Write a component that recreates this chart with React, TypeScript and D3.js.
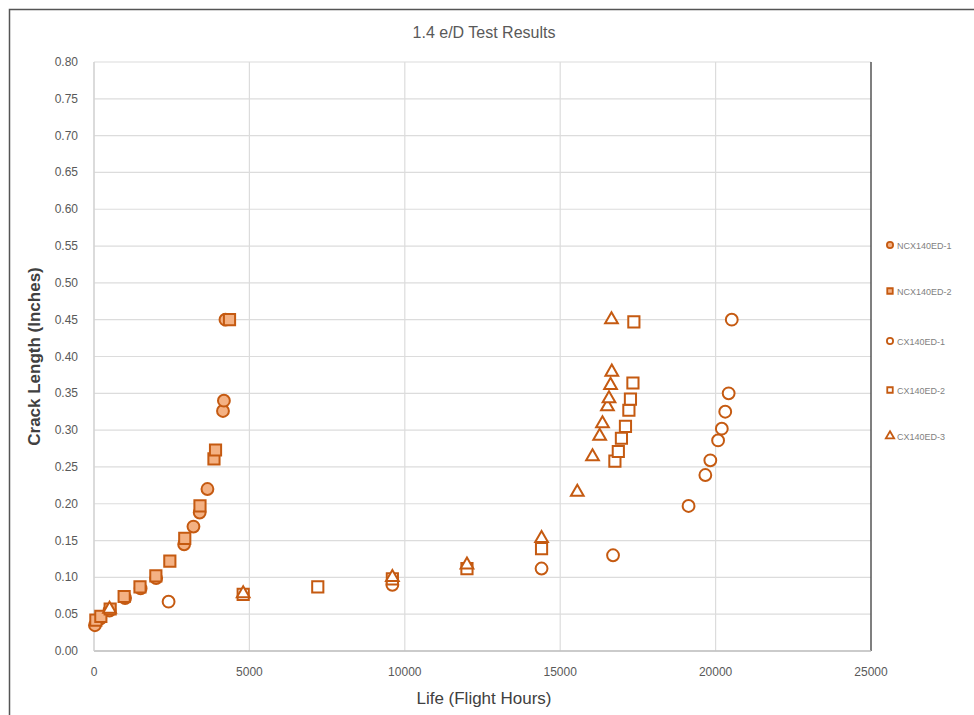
import React, { useEffect, useRef } from 'react';
import * as d3 from 'd3';

// NCX140ED-1 (filled circles)
const ncx1Hours = [30, 200, 500, 1000, 1500, 2000, 2900, 3200, 3400, 3650, 4150, 4180, 4230];
const ncx1Crack = [0.035, 0.044, 0.055, 0.072, 0.085, 0.099, 0.145, 0.169, 0.188, 0.220, 0.326, 0.340, 0.450];
// NCX140ED-2 (filled squares)
const ncx2Hours = [60, 220, 520, 970, 1480, 1990, 2440, 2920, 3410, 3860, 3910, 4360];
const ncx2Crack = [0.042, 0.047, 0.057, 0.074, 0.087, 0.102, 0.122, 0.153, 0.197, 0.261, 0.273, 0.450];
// CX140ED-1 (open circles)
const cx1Hours = [2400, 9600, 14400, 16700, 19130, 19670, 19830, 20080, 20200, 20310, 20420, 20520];
const cx1Crack = [0.067, 0.090, 0.112, 0.130, 0.197, 0.239, 0.259, 0.286, 0.302, 0.325, 0.350, 0.450];
// CX140ED-2 (open squares)
const cx2Hours = [4800, 7200, 9600, 12000, 14400, 16760, 16870, 16970, 17100, 17210, 17260, 17340, 17370];
const cx2Crack = [0.077, 0.087, 0.098, 0.112, 0.139, 0.258, 0.271, 0.289, 0.305, 0.327, 0.342, 0.364, 0.447];
// CX140ED-3 (open triangles)
const cx3Hours = [500, 4800, 9600, 12000, 14400, 15550, 16040, 16270, 16360, 16520, 16570, 16620, 16660, 16650];
const cx3Crack = [0.057, 0.078, 0.100, 0.117, 0.153, 0.216, 0.264, 0.292, 0.309, 0.332, 0.343, 0.361, 0.379, 0.450];

const seriesNames = ['NCX140ED-1', 'NCX140ED-2', 'CX140ED-1', 'CX140ED-2', 'CX140ED-3'];
const xTicks = [0, 5000, 10000, 15000, 20000, 25000];
const yTicks = d3.range(0, 0.8001, 0.05);

const ORANGE = '#c55a11';
const LIGHT = '#f4b183';
const FONT = '"Liberation Sans Narrow", "Liberation Sans", sans-serif';

export default function App() {
  const ref = useRef<SVGSVGElement>(null);

  useEffect(() => {
    const svg = d3.select(ref.current);
    svg.selectAll('*').remove();

    const x = d3.scaleLinear().domain([0, 25000]).range([94, 871]);
    const y = d3.scaleLinear().domain([0, 0.8]).range([651, 62]);

    svg.append('rect').attr('width', 974).attr('height', 715).attr('fill', '#fff');
    // outer frame
    svg.append('path').attr('d', 'M9.5,715 V9.5 H974').attr('fill', 'none').attr('stroke', '#555').attr('stroke-width', 1.5);

    svg.append('text').attr('x', 484).attr('y', 38).attr('text-anchor', 'middle')
      .attr('font-family', FONT).attr('font-size', 16).attr('fill', '#595959').text('1.4 e/D Test Results');

    const grid = svg.append('g');
    grid.selectAll('line.h').data(yTicks).enter().append('line')
      .attr('x1', x(0)).attr('x2', x(25000)).attr('y1', d => y(d)).attr('y2', d => y(d))
      .attr('stroke', '#dcdcdc').attr('stroke-width', 1.2);
    grid.selectAll('line.v').data(xTicks).enter().append('line')
      .attr('y1', y(0)).attr('y2', y(0.8)).attr('x1', d => x(d)).attr('x2', d => x(d))
      .attr('stroke', d => (d === 25000 ? '#555' : '#dcdcdc')).attr('stroke-width', d => (d === 25000 ? 1.5 : 1.2));
    svg.append('line').attr('x1', x(0)).attr('x2', x(25000)).attr('y1', y(0)).attr('y2', y(0))
      .attr('stroke', '#bfbfbf').attr('stroke-width', 1.5);
    svg.append('line').attr('x1', x(0)).attr('x2', x(0)).attr('y1', y(0)).attr('y2', y(0.8))
      .attr('stroke', '#d0d0d0').attr('stroke-width', 1.2);

    svg.selectAll('text.yt').data(yTicks).enter().append('text')
      .attr('x', 78).attr('y', d => y(d) + 4).attr('text-anchor', 'end')
      .attr('font-family', FONT).attr('font-size', 12).attr('fill', '#595959')
      .text(d => d3.format('.2f')(d));
    svg.selectAll('text.xt').data(xTicks).enter().append('text')
      .attr('x', d => x(d)).attr('y', 676).attr('text-anchor', 'middle')
      .attr('font-family', FONT).attr('font-size', 12).attr('fill', '#595959')
      .text(d => String(d));

    svg.append('text').attr('x', 484).attr('y', 704).attr('text-anchor', 'middle')
      .attr('font-family', FONT).attr('font-size', 17).attr('fill', '#404040').text('Life (Flight Hours)');
    svg.append('text').attr('transform', `translate(40,${y(0.4)}) rotate(-90)`).attr('text-anchor', 'middle')
      .attr('font-family', FONT).attr('font-size', 17).attr('font-weight', 'bold').attr('fill', '#404040')
      .text('Crack Length (Inches)');

    const series = [
      { h: ncx1Hours, c: ncx1Crack, shape: d3.symbolCircle, fill: LIGHT, size: 110 },
      { h: ncx2Hours, c: ncx2Crack, shape: d3.symbolSquare, fill: LIGHT, size: 125 },
      { h: cx1Hours, c: cx1Crack, shape: d3.symbolCircle, fill: '#fff', size: 110 },
      { h: cx2Hours, c: cx2Crack, shape: d3.symbolSquare, fill: '#fff', size: 125 },
      { h: cx3Hours, c: cx3Crack, shape: d3.symbolTriangle, fill: '#fff', size: 70 },
    ];

    series.forEach((s, i) => {
      const sym = d3.symbol().type(s.shape).size(s.size);
      svg.append('g').selectAll('path').data(s.h.map((h, j) => [h, s.c[j]])).enter().append('path')
        .attr('d', sym as any)
        .attr('transform', d => `translate(${x(d[0])},${y(d[1])})`)
        .attr('fill', s.fill).attr('stroke', ORANGE).attr('stroke-width', 2);

      const ly = [245, 291, 341, 390, 436][i];
      const lsym = d3.symbol().type(s.shape).size(30);
      svg.append('path').attr('d', lsym as any).attr('transform', `translate(890,${ly})`)
        .attr('fill', s.fill).attr('stroke', ORANGE).attr('stroke-width', 1.8);
      svg.append('text').attr('x', 897).attr('y', ly + 3.5)
        .attr('font-family', FONT).attr('font-size', 9).attr('fill', '#7f7f7f').text(seriesNames[i]);
    });
  }, []);

  return (
    <svg ref={ref} width={974} height={715} style={{ position: 'absolute', left: 0, top: 0 }} />
  );
}
